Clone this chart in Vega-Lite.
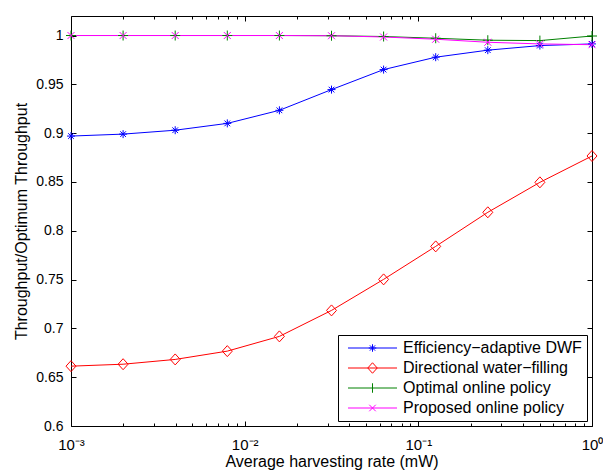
{
  "$schema": "https://vega.github.io/schema/vega-lite/v6.json",
  "width": 521,
  "height": 410,
  "autosize": {"type": "none"},
  "padding": {"left": 71, "top": 16, "right": 11, "bottom": 47},
  "background": "white",
  "data": {
    "values": [
      {"series": "Efficiency−adaptive DWF", "rate": 0.001, "ratio": 0.897},
      {"series": "Efficiency−adaptive DWF", "rate": 0.0019953, "ratio": 0.899},
      {"series": "Efficiency−adaptive DWF", "rate": 0.0039811, "ratio": 0.903},
      {"series": "Efficiency−adaptive DWF", "rate": 0.0079433, "ratio": 0.910},
      {"series": "Efficiency−adaptive DWF", "rate": 0.0158489, "ratio": 0.9234},
      {"series": "Efficiency−adaptive DWF", "rate": 0.0316228, "ratio": 0.9446},
      {"series": "Efficiency−adaptive DWF", "rate": 0.0630957, "ratio": 0.9651},
      {"series": "Efficiency−adaptive DWF", "rate": 0.1258925, "ratio": 0.9778},
      {"series": "Efficiency−adaptive DWF", "rate": 0.2511886, "ratio": 0.985},
      {"series": "Efficiency−adaptive DWF", "rate": 0.5011872, "ratio": 0.9897},
      {"series": "Efficiency−adaptive DWF", "rate": 1.0, "ratio": 0.9914},
      {"series": "Directional water−filling", "rate": 0.001, "ratio": 0.6613},
      {"series": "Directional water−filling", "rate": 0.0019953, "ratio": 0.6633},
      {"series": "Directional water−filling", "rate": 0.0039811, "ratio": 0.6682},
      {"series": "Directional water−filling", "rate": 0.0079433, "ratio": 0.6767},
      {"series": "Directional water−filling", "rate": 0.0158489, "ratio": 0.6918},
      {"series": "Directional water−filling", "rate": 0.0316228, "ratio": 0.7184},
      {"series": "Directional water−filling", "rate": 0.0630957, "ratio": 0.7502},
      {"series": "Directional water−filling", "rate": 0.1258925, "ratio": 0.784},
      {"series": "Directional water−filling", "rate": 0.2511886, "ratio": 0.8189},
      {"series": "Directional water−filling", "rate": 0.5011872, "ratio": 0.8496},
      {"series": "Directional water−filling", "rate": 1.0, "ratio": 0.8766},
      {"series": "Optimal online policy", "rate": 0.001, "ratio": 1.0},
      {"series": "Optimal online policy", "rate": 0.0019953, "ratio": 1.0},
      {"series": "Optimal online policy", "rate": 0.0039811, "ratio": 1.0},
      {"series": "Optimal online policy", "rate": 0.0079433, "ratio": 1.0},
      {"series": "Optimal online policy", "rate": 0.0158489, "ratio": 1.0},
      {"series": "Optimal online policy", "rate": 0.0316228, "ratio": 0.9998},
      {"series": "Optimal online policy", "rate": 0.0630957, "ratio": 0.9990},
      {"series": "Optimal online policy", "rate": 0.1258925, "ratio": 0.9972},
      {"series": "Optimal online policy", "rate": 0.2511886, "ratio": 0.9952},
      {"series": "Optimal online policy", "rate": 0.5011872, "ratio": 0.9948},
      {"series": "Optimal online policy", "rate": 1.0, "ratio": 0.9995},
      {"series": "Proposed online policy", "rate": 0.001, "ratio": 1.0},
      {"series": "Proposed online policy", "rate": 0.0019953, "ratio": 1.0},
      {"series": "Proposed online policy", "rate": 0.0039811, "ratio": 1.0},
      {"series": "Proposed online policy", "rate": 0.0079433, "ratio": 1.0},
      {"series": "Proposed online policy", "rate": 0.0158489, "ratio": 1.0},
      {"series": "Proposed online policy", "rate": 0.0316228, "ratio": 0.9998},
      {"series": "Proposed online policy", "rate": 0.0630957, "ratio": 0.9985},
      {"series": "Proposed online policy", "rate": 0.1258925, "ratio": 0.9962},
      {"series": "Proposed online policy", "rate": 0.2511886, "ratio": 0.9931},
      {"series": "Proposed online policy", "rate": 0.5011872, "ratio": 0.9914},
      {"series": "Proposed online policy", "rate": 1.0, "ratio": 0.9906}
    ]
  },
  "layer": [
    {
      "mark": {"type": "line", "strokeWidth": 1, "clip": true},
      "encoding": {
        "x": {
          "field": "rate", "type": "quantitative",
          "scale": {"type": "log", "domain": [0.001, 1], "nice": false},
          "axis": {
            "orient": "bottom",
            "values": [0.001, 0.01, 0.1, 1],
            "labelExpr": "datum.value < 0.002 ? '10⁻³' : datum.value < 0.02 ? '10⁻²' : datum.value < 0.2 ? '10⁻¹' : '10⁰'",
            "labelPadding": 16,
            "labelFontSize": 15,
            "labelFlush": false,
            "title": "Average harvesting rate (mW)",
            "titlePadding": 1
          }
        },
        "y": {
          "field": "ratio", "type": "quantitative",
          "scale": {"domain": [0.6, 1.02], "nice": false, "zero": false},
          "axis": {
            "orient": "left",
            "values": [0.6, 0.65, 0.7, 0.75, 0.8, 0.85, 0.9, 0.95, 1],
            "format": "~g",
            "labelPadding": 13,
            "labelFlush": false,
            "title": "Throughput/Optimum Throughput",
            "titlePadding": 6
          }
        },
        "color": {
          "field": "series", "type": "nominal", "sort": null,
          "scale": {
            "domain": ["Efficiency−adaptive DWF", "Directional water−filling", "Optimal online policy", "Proposed online policy"],
            "range": ["#0000ff", "#ff0000", "#008000", "#ff00ff"]
          },
          "legend": {
            "title": null,
            "orient": "none",
            "legendX": 267,
            "legendY": 319,
            "padding": 5,
            "strokeColor": "black",
            "fillColor": "white",
            "symbolSize": 100,
            "symbolStrokeWidth": 1,
            "symbolOffset": 21.5,
            "labelOffset": 22.5,
            "rowPadding": 4,
            "labelFontSize": 16,
            "labelColor": "black",
            "labelLimit": 400,
            "encode": {
              "symbols": {
                "update": {
                  "shape": {"signal": "['M-4.9,0L4.9,0M-0.75,0L0.75,0M0,-0.75L0,0.75M-0.53,-0.53L0.53,0.53M-0.53,0.53L0.53,-0.53', 'M-4.9,0L4.9,0M0,-1.05L0.95,0L0,1.05L-0.95,0Z', 'M-4.9,0L4.9,0M0,-0.95L0,0.95', 'M-4.9,0L4.9,0M-0.65,-0.65L0.65,0.65M-0.65,0.65L0.65,-0.65'][datum.index]"},
                  "stroke": {"scale": "color", "field": "value"},
                  "fill": {"value": "transparent"},
                  "strokeWidth": {"value": 1},
                  "opacity": {"value": 1}
                }
              }
            }
          }
        }
      }
    },
    {
      "mark": {"type": "point", "filled": false, "size": 100, "strokeWidth": 1, "opacity": 1, "clip": false},
      "encoding": {
        "x": {
          "field": "rate", "type": "quantitative",
          "axis": {"orient": "top", "values": [0.001, 0.01, 0.1, 1], "labels": false, "title": null}
        },
        "y": {
          "field": "ratio", "type": "quantitative",
          "axis": {"orient": "right", "values": [0.6, 0.65, 0.7, 0.75, 0.8, 0.85, 0.9, 0.95, 1], "labels": false, "title": null}
        },
        "color": {"field": "series", "type": "nominal", "sort": null, "legend": null},
        "shape": {
          "field": "series", "type": "nominal",
          "scale": {
            "domain": ["Efficiency−adaptive DWF", "Directional water−filling", "Optimal online policy", "Proposed online policy"],
            "range": [
              "M-0.8,0L0.8,0M0,-0.8L0,0.8M-0.57,-0.57L0.57,0.57M-0.57,0.57L0.57,-0.57",
              "M0,-1.1L1,0L0,1.1L-1,0Z",
              "M-1,0L1,0M0,-1L0,1",
              "M-0.7,-0.7L0.7,0.7M-0.7,0.7L0.7,-0.7"
            ]
          },
          "legend": null
        }
      }
    },
    {
      "mark": {"type": "point", "opacity": 0},
      "encoding": {
        "x": {
          "field": "rate", "type": "quantitative",
          "axis": {
            "orient": "bottom",
            "values": [0.002, 0.003, 0.004, 0.005, 0.006, 0.007, 0.008, 0.009, 0.02, 0.03, 0.04, 0.05, 0.06, 0.07, 0.08, 0.09, 0.2, 0.3, 0.4, 0.5, 0.6, 0.7, 0.8, 0.9],
            "labels": false, "title": null, "tickSize": -3
          }
        },
        "y": {"field": "ratio", "type": "quantitative", "axis": null}
      }
    },
    {
      "mark": {"type": "point", "opacity": 0},
      "encoding": {
        "x": {
          "field": "rate", "type": "quantitative",
          "axis": {
            "orient": "top",
            "values": [0.002, 0.003, 0.004, 0.005, 0.006, 0.007, 0.008, 0.009, 0.02, 0.03, 0.04, 0.05, 0.06, 0.07, 0.08, 0.09, 0.2, 0.3, 0.4, 0.5, 0.6, 0.7, 0.8, 0.9],
            "labels": false, "title": null, "tickSize": -3
          }
        },
        "y": {"field": "ratio", "type": "quantitative", "axis": null}
      }
    }
  ],
  "resolve": {
    "axis": {"x": "independent", "y": "independent"},
    "legend": {"color": "independent", "shape": "independent"}
  },
  "config": {
    "font": "Liberation Sans",
    "view": {"stroke": "black", "strokeWidth": 1},
    "axis": {
      "grid": false,
      "domain": false,
      "ticks": true,
      "tickSize": -5,
      "tickColor": "black",
      "tickWidth": 1,
      "labelColor": "black",
      "labelFontSize": 14,
      "titleColor": "black",
      "titleFontSize": 16,
      "titleFontWeight": "normal"
    }
  }
}
